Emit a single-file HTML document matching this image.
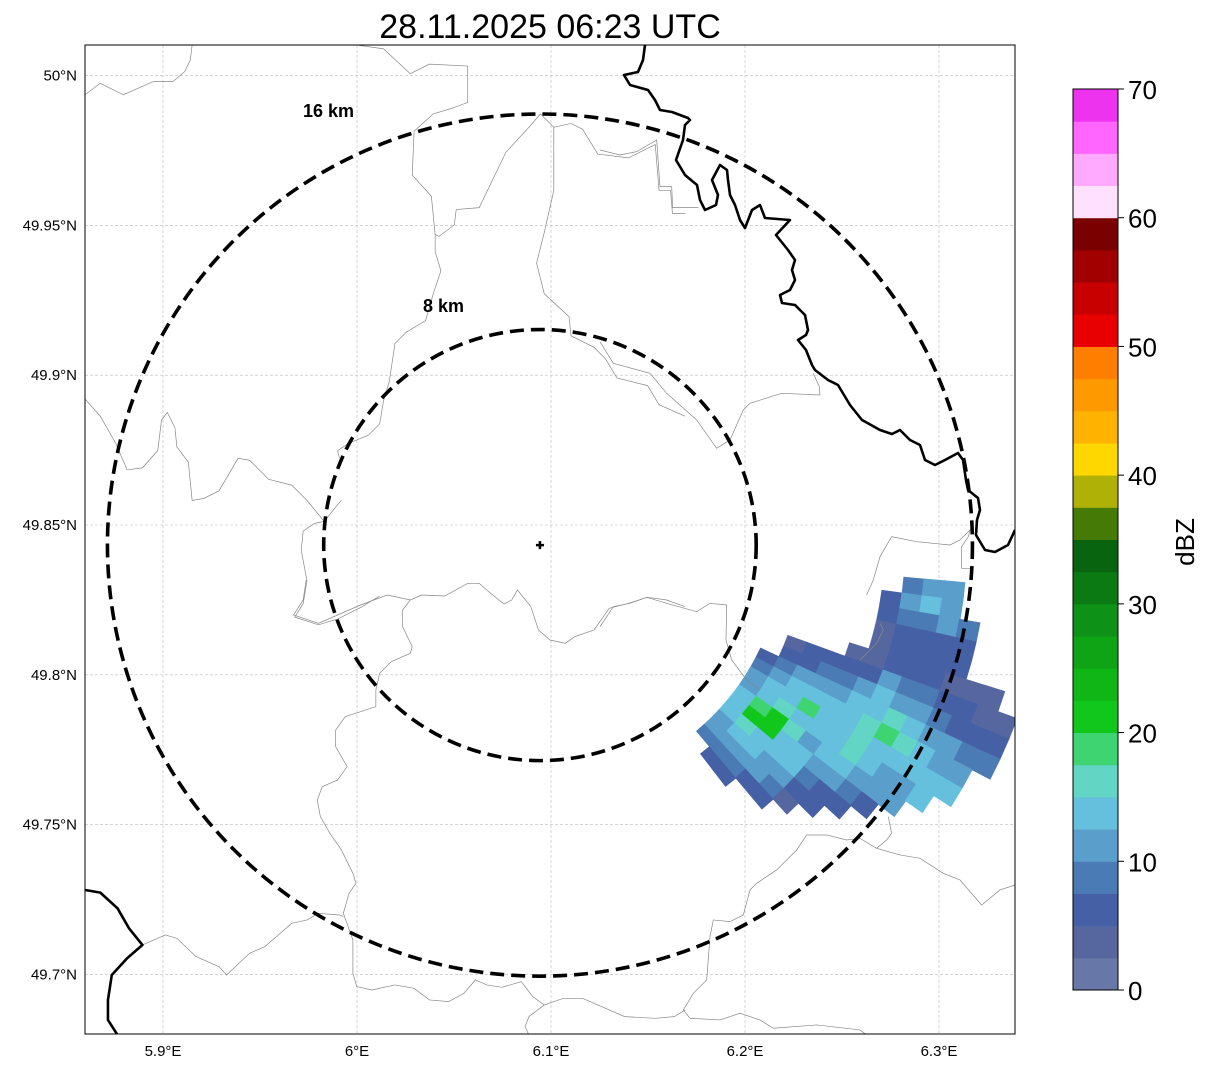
<!DOCTYPE html>
<html><head><meta charset="utf-8"><style>
html,body{margin:0;padding:0;background:#fff;}
svg{display:block;font-family:"Liberation Sans","DejaVu Sans",sans-serif;}
</style></head><body>
<svg id="chart" width="1207" height="1069" viewBox="0 0 1207 1069" xmlns="http://www.w3.org/2000/svg">
<text x="550" y="38" font-size="34" text-anchor="middle">28.11.2025 06:23 UTC</text>
<defs><clipPath id="pc"><rect x="85" y="45" width="930" height="989"/></clipPath></defs>
<g id="grid"></g>
<g clip-path="url(#pc)">
<g id="echo"></g>
<g fill="none" stroke="#888" stroke-width="0.7">
 <g transform="translate(85,45) scale(0.3827)">
  <polyline vector-effect="non-scaling-stroke" points="0,130 40,100 100,130 180,95 230,95 260,70 275,40 280,0"/>
  <polyline vector-effect="non-scaling-stroke" points="710,0 780,10 850,75 900,50 1000,55 1000,150 960,165 910,180 860,225 855,340 905,395 915,495 915,540 930,590 910,650 890,720 840,750 810,780 795,880 780,930 770,990 740,1020 690,1040 660,1060 665,1080"/>
  <polyline vector-effect="non-scaling-stroke" points="915,495 925,500 965,470 970,430 1030,425 1100,280 1160,215 1190,180 1225,215 1225,380 1200,490 1180,570 1200,650 1265,710 1270,760 1330,790 1360,820 1390,870 1470,890 1500,940 1568,970"/>
  <polyline vector-effect="non-scaling-stroke" points="1225,215 1270,205 1300,220 1340,285 1420,295 1490,260 1500,380 1530,380 1535,440 1568,440"/>
  <polyline vector-effect="non-scaling-stroke" points="0,925 40,970 80,1040 110,1110 150,1105 190,1060 200,980 215,960 235,1000 240,1050 270,1090 280,1190 310,1185 350,1165 400,1080 430,1085 480,1135 540,1150 580,1190 625,1245 600,1250 570,1270 565,1320 580,1400 570,1460 548,1495 610,1515 660,1500 720,1470 770,1440"/>
  <polyline vector-effect="non-scaling-stroke" points="625,1245 665,1195 670,1190"/>
 </g>
 <g transform="translate(600,40) scale(0.3333)">
  <polyline vector-effect="non-scaling-stroke" points="0,330 60,345 110,335 170,300 180,440 215,440 218,503 295,503"/>
  <polyline vector-effect="non-scaling-stroke" points="0,905 40,970 150,1000 200,1060 290,1140 350,1225 390,1200 430,1110 450,1090 545,1060 660,1065 658,1040 640,1000"/>
 </g>
 <g transform="translate(85,580) scale(0.3827,0.3333)">
  <polyline vector-effect="non-scaling-stroke" points="578,0 570,60 545,105 610,130 660,105 720,75 790,45 850,60 880,45 940,48 1000,10 1030,10 1060,40 1095,72 1115,60 1130,30 1165,80 1185,150 1215,180 1255,190 1280,170 1330,150 1370,85 1420,70 1470,52 1520,60 1568,80"/>
  <polyline vector-effect="non-scaling-stroke" points="850,60 830,90 830,140 855,200 850,220 800,245 770,280 760,330 760,380 680,410 655,450 655,500 685,560 660,600 620,620 607,660 615,710 640,760 670,810 700,880 708,910 690,940 675,1000 700,1080 700,1180 710,1220 750,1230 810,1215 860,1225 900,1260 950,1265 990,1240 1020,1200 1050,1215 1090,1222 1140,1205 1170,1250 1200,1275 1250,1255 1300,1255 1340,1275 1410,1310 1490,1315 1540,1310 1568,1290"/>
  <polyline vector-effect="non-scaling-stroke" points="1200,1275 1160,1310 1150,1340 1160,1365"/>
  <polyline vector-effect="non-scaling-stroke" points="150,1095 210,1065 240,1075 290,1130 350,1160 370,1185 430,1120 470,1100 540,1030 580,1020 610,1000 665,1005 675,1010"/>
 </g>
 <g transform="translate(600,520) scale(0.3333)">
  <polyline vector-effect="non-scaling-stroke" points="0,320 40,260 90,250 140,232 200,250 290,275 330,250 380,255 378,360 395,420 440,480 480,510"/>
  <polyline vector-effect="non-scaling-stroke" points="800,1545 780,1530 650,1515 520,1525 480,1500 420,1480 360,1500 270,1495 250,1470 280,1420 320,1380 330,1250 340,1200 390,1205 430,1185 450,1110 470,1090 530,1050 590,990 620,945 680,945 740,960 780,955 830,985 860,960 875,940 865,890"/>
  <polyline vector-effect="non-scaling-stroke" points="830,985 900,1005 960,1015 1030,1060 1080,1080 1145,1155 1200,1110 1245,1095"/>
  <polyline vector-effect="non-scaling-stroke" points="800,225 820,180 840,110 875,50 950,65 1050,75 1080,60 1110,30 1105,50 1085,80 1085,145 1120,145"/>
  <polyline vector-effect="non-scaling-stroke" points="840,310 850,330 830,370 800,400 780,420"/>
 </g>
</g>
<g fill="none" stroke="#000" stroke-width="2.6" stroke-linejoin="round">
 <polyline points="645,45 643,60 638,72 624,75 630,85 648,90 655,100 660,110 672,112 688,118 690,120 685,125 683,140 676,160 685,175 697,185 700,200 705,210 716,205 718,195 712,180 720,165 727,170 728,180 730,195 735,205 740,220 745,228 752,210 760,205 765,218 790,220 776,235 788,250 795,260 792,270 795,280 790,290 780,295 782,303 795,305 805,315 808,330 806,335 798,340 806,350 812,365 815,370 828,380 838,385 850,405 862,420 880,430 892,434 900,430 910,440 920,445 925,460 935,465 945,460 958,453 963,460 966,480 968,490 978,498 980,510 977,520 976,535 985,550 995,552 1008,545 1015,530"/>
 <g transform="translate(85,580) scale(0.3827,0.3333)">
  <polyline vector-effect="non-scaling-stroke" stroke-width="2.6" points="0,930 40,938 85,985 115,1045 150,1095 110,1135 70,1185 60,1260 60,1320 85,1365"/>
 </g>
</g>
<g id="rings"></g>
</g>
<rect x="85" y="45" width="930" height="989" fill="none" stroke="#000" stroke-width="1"/>
<text x="303" y="117" font-size="18" font-weight="bold">16 km</text>
<text x="423" y="312" font-size="18" font-weight="bold">8 km</text>
<g id="axes" font-size="15"></g>
<g id="cbar"></g>
<text x="0" y="0" font-size="26" text-anchor="middle" transform="translate(1194,542) rotate(-90)">dBZ</text>
<script>
const lonTicks=[5.9,6.0,6.1,6.2,6.3];
const lonLabels=["5.9°E","6°E","6.1°E","6.2°E","6.3°E"];
const latTicks=[50.0,49.95,49.9,49.85,49.8,49.75,49.7];
const latLabels=["50°N","49.95°N","49.9°N","49.85°N","49.8°N","49.75°N","49.7°N"];
const radarLon=6.0943;
const radarLat=49.8433;
const ringKm=[8,16];
const cbarTicks=[0,10,20,30,40,50,60,70];
const cbarColors=["#6677a8","#5667a0","#4660a5","#4b7bb5","#5a9fcb","#64c0dd","#62d5c5","#3fd472","#12c71c","#10b615","#0fa316","#0d9116","#0b7a12","#08640f","#457a07","#b0b107","#ffd700","#ffb300","#ff9900","#ff7e00","#e80000","#c80000","#a00000","#7a0000","#ffe0ff","#ffaaff","#ff66ff","#ee33ee"];
const rangeStart=9.0, rangeStep=0.75, azStart=95, azStep=2.5;
const echoRows=[
[0,0,0,0,0,0,0,0,6,8,10,12,13,14,13,12,10,8,0],
[0,0,0,0,0,0,4,6,8,12,13,14,18,20,15,13,12,8,5],
[0,0,0,0,0,0,5,7,10,13,14,15,21,22,14,13,12,9,6],
[0,0,0,0,0,0,5,8,12,13,18,14,16,14,13,12,10,6,0],
[0,0,0,0,0,4,6,9,12,13,14,13,12,14,13,11,8,5,0],
[0,5,7,4,3,4,7,10,13,14,13,14,13,11,8,6,4,0,0],
[8,12,8,6,5,7,10,13,14,16,15,17,13,10,7,5,0,0,0],
[12,13,9,6,5,6,9,12,15,18,14,13,11,8,5,0,0,0,0],
[10,12,10,7,5,6,8,11,14,17,13,12,10,7,0,0,0,0,0],
[0,0,8,7,5,4,6,9,12,13,14,12,10,0,0,0,0,0,0],
[0,0,0,0,0,4,5,7,10,12,13,14,0,0,0,0,0,0,0],
[0,0,0,0,0,3,4,6,8,10,13,0,0,0,0,0,0,0,0],
[0,0,0,0,0,0,3,5,8,0,0,0,0,0,0,0,0,0,0]
];
const NS="http://www.w3.org/2000/svg";
function X(lon){return 357+(lon-6.0)*1940;}
function Y(lat){return 525-(lat-49.85)*2996;}
function polar(r,az){const a=az*Math.PI/180;return [X(radarLon+r*Math.sin(a)/71.77),Y(radarLat+r*Math.cos(a)/111.2)];}
function mk(tag,attrs,parent){const e=document.createElementNS(NS,tag);for(const k in attrs)e.setAttribute(k,attrs[k]);parent.appendChild(e);return e;}
function colorFor(v){let i=Math.floor(v/2.5);if(i<0)i=0;if(i>27)i=27;return cbarColors[i];}
const grid=document.getElementById('grid'),axes=document.getElementById('axes');
lonTicks.forEach((t,i)=>{
 const l=mk('line',{x1:X(t),x2:X(t),y1:45,y2:1034,stroke:'#bbb','stroke-width':0.6,'stroke-dasharray':'3,2'},grid);
 
 
 const tx=mk('text',{x:X(t),y:1056,'text-anchor':'middle'},axes);tx.textContent=lonLabels[i];
 
 
});
latTicks.forEach((t,i)=>{
 const l=mk('line',{x1:85,x2:1015,y1:Y(t),y2:Y(t),stroke:'#bbb','stroke-width':0.6,'stroke-dasharray':'3,2'},grid);
 
 
 const tx=mk('text',{x:77,y:Y(t)+5,'text-anchor':'end'},axes);tx.textContent=latLabels[i];
 
 
});
const echo=document.getElementById('echo');
echoRows.forEach((row,i)=>{row.forEach((v,j)=>{
 if(!v)return;
 const r0=rangeStart+i*rangeStep,r1=r0+rangeStep+0.05,a0=azStart+j*azStep,a1=a0+azStep+0.1;
 const pts=[polar(r0,a0),polar(r1,a0),polar(r1,a1),polar(r0,a1)].map(p=>p[0].toFixed(1)+','+p[1].toFixed(1)).join(' ');
 const p=mk('polygon',{points:pts,fill:colorFor(v)},echo);
 
 
});});
const rings=document.getElementById('rings');
const cx=X(radarLon),cy=Y(radarLat);
ringKm.forEach(k=>{
 const rx=X(radarLon+k/71.77)-cx, ry=cy-Y(radarLat+k/111.2);
 const e=mk('ellipse',{cx:cx,cy:cy,rx:rx,ry:ry,fill:'none',stroke:'#000','stroke-width':3.6,'stroke-dasharray':'14,7'},rings);
 
 
});
const m=mk('path',{d:`M${cx-4},${cy}H${cx+4}M${cx},${cy-4}V${cy+4}`,stroke:'#000','stroke-width':2.5},rings);


const cb=document.getElementById('cbar');
const cbTop=89,cbBot=990,cbX=1073,cbW=45;
function CY(v){return cbBot-(v/70)*(cbBot-cbTop);}
cbarColors.forEach((c,i)=>{
 const r=mk('rect',{x:cbX,y:CY((i+1)*2.5),width:cbW,height:CY(i*2.5)-CY((i+1)*2.5)+0.5,fill:c},cb);
 
 
});
mk('rect',{x:cbX,y:cbTop,width:cbW,height:cbBot-cbTop,fill:'none',stroke:'#000','stroke-width':1},cb);
cbarTicks.forEach(t=>{
 mk('line',{x1:cbX+cbW,x2:cbX+cbW+6,y1:CY(t),y2:CY(t),stroke:'#000','stroke-width':1},cb);
 const tx=mk('text',{x:1128,y:CY(t)+10,'font-size':26},cb);tx.textContent=t;
 
 
});
</script>
</svg>
</body></html>
